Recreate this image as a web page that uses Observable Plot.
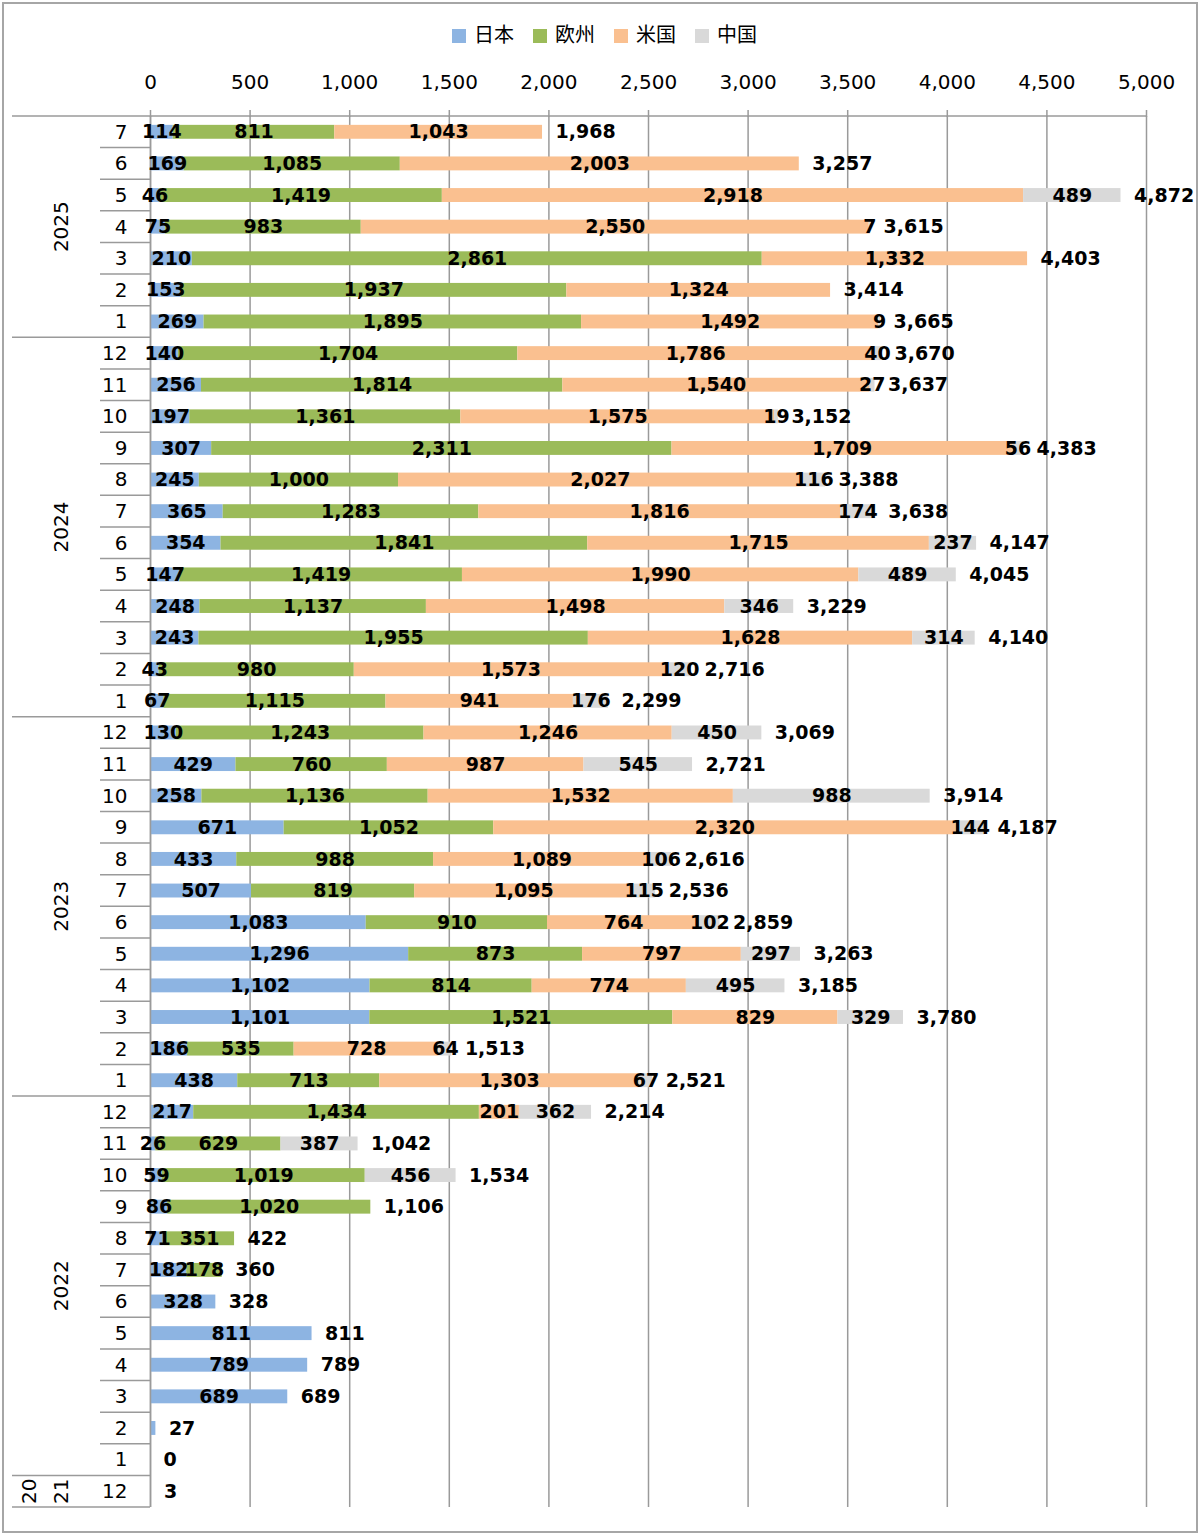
<!DOCTYPE html>
<html><head><meta charset="utf-8">
<script src="https://cdn.jsdelivr.net/npm/d3@7"></script>
<script src="https://cdn.jsdelivr.net/npm/@observablehq/plot@0.6"></script>
<style>
body{margin:0;background:#fff;}
#wrap{position:relative;width:1200px;height:1535px;}
#legend{position:absolute;top:23px;left:452px;display:flex;align-items:center;font-family:"Noto Sans CJK JP","Noto Sans",sans-serif;font-size:20px;color:#000;line-height:22px;}
#legend .item{display:flex;align-items:center;margin-right:19px;}
#legend .sw{width:14px;height:14px;margin-right:8px;margin-top:4px;}
</style>
</head><body>
<div id="wrap"><div id="legend"></div></div>
<script>
const periods = [
  "2025-7","2025-6","2025-5","2025-4","2025-3","2025-2","2025-1",
  "2024-12","2024-11","2024-10","2024-9","2024-8","2024-7","2024-6","2024-5","2024-4","2024-3","2024-2","2024-1",
  "2023-12","2023-11","2023-10","2023-9","2023-8","2023-7","2023-6","2023-5","2023-4","2023-3","2023-2","2023-1",
  "2022-12","2022-11","2022-10","2022-9","2022-8","2022-7","2022-6","2022-5","2022-4","2022-3","2022-2","2022-1",
  "2021-12"
];
const japan = [
  114,169,46,75,210,153,269,
  140,256,197,307,245,365,354,147,248,243,43,67,
  130,429,258,671,433,507,1083,1296,1102,1101,186,438,
  217,26,59,86,71,182,328,811,789,689,27,0,
  3
];
const europe = [
  811,1085,1419,983,2861,1937,1895,
  1704,1814,1361,2311,1000,1283,1841,1419,1137,1955,980,1115,
  1243,760,1136,1052,988,819,910,873,814,1521,535,713,
  1434,629,1019,1020,351,178,0,0,0,0,0,0,
  0
];
const usa = [
  1043,2003,2918,2550,1332,1324,1492,
  1786,1540,1575,1709,2027,1816,1715,1990,1498,1628,1573,941,
  1246,987,1532,2320,1089,1095,764,797,774,829,728,1303,
  201,0,0,0,0,0,0,0,0,0,0,0,
  0
];
const china = [
  0,0,489,7,0,0,9,
  40,27,19,56,116,174,237,489,346,314,120,176,
  450,545,988,144,106,115,102,297,495,329,64,67,
  362,387,456,0,0,0,0,0,0,0,0,0,
  0
];
const seriesNames = ["日本","欧州","米国","中国"];
const seriesColors = ["#8DB4E2","#9BBB59","#FAC090","#D9D9D9"];
const xTicks = [0,500,1000,1500,2000,2500,3000,3500,4000,4500,5000];
const hideSegmentLabel = ["2022-2","2021-12"];

const seriesValues = [japan, europe, usa, china];
const long = [];
seriesNames.forEach((s, si) => {
  periods.forEach((p, i) => long.push({period: p, series: s, value: seriesValues[si][i]}));
});
const totals = periods.map((p, i) => ({period: p, total: japan[i] + europe[i] + usa[i] + china[i]}));
const fmt = d3.format(",");
const labelFont = "DejaVu Sans, Verdana, sans-serif";

const plot = Plot.plot({
  width: 1200,
  height: 1535,
  marginTop: 116,
  marginBottom: 28,
  marginLeft: 150,
  marginRight: 54,
  style: {fontFamily: labelFont, fontSize: "20px", color: "#000", background: "transparent"},
  x: {domain: [0, 5000], ticks: xTicks},
  y: {domain: periods, paddingInner: 0.56, paddingOuter: 0.28, round: false},
  color: {domain: seriesNames, range: seriesColors},
  marks: [
    Plot.gridX(xTicks, {stroke: "#9a9a9a", strokeOpacity: 1, strokeWidth: 1.5}),
    Plot.axisX(xTicks, {anchor: "top", tickSize: 7, tickPadding: 21, tickFormat: fmt, stroke: "#9a9a9a", strokeWidth: 1.5, fontSize: 20, label: null}),
    Plot.axisY({tickSize: 0, tickPadding: 23, tickFormat: p => p.split("-")[1], fontSize: 20, label: null}),
    Plot.barX(long, Plot.stackX({y: "period", x: "value", fill: "series", z: "series", order: seriesNames})),
    Plot.ruleX([0], {stroke: "#9a9a9a", strokeWidth: 1.5}),
    Plot.text(long, Plot.stackX({
      y: "period", x: "value", z: "series", order: seriesNames,
      text: d => (d.value > 0 && !hideSegmentLabel.includes(d.period)) ? fmt(d.value) : null,
      fontWeight: "bold", fontSize: 19, fill: "#000"
    })),
    Plot.text(totals, {y: "period", x: "total", text: d => fmt(d.total), textAnchor: "start", dx: 13, fontWeight: "bold", fontSize: 19, fill: "#000"})
  ]
});

document.getElementById("wrap").prepend(plot);

// legend
const lg = d3.select("#legend");
seriesNames.forEach((s, i) => {
  const it = lg.append("div").attr("class", "item");
  it.append("div").attr("class", "sw").style("background", seriesColors[i]);
  it.append("span").text(s);
});

// category axis structure (month separators, year groups) using Plot's y scale
const ys = plot.scale("y");
const bw = ys.bandwidth;
const step = ys.apply(periods[1]) - ys.apply(periods[0]);
const rowTop = p => ys.apply(p) + bw / 2 - step / 2;
const svg = d3.select(plot);
const g = svg.append("g").attr("stroke", "#9a9a9a").attr("stroke-width", 1.5);
const years = periods.map(p => p.split("-")[0]);
const xs = plot.scale("x");
const x0 = xs.apply(0), xEnd = xs.apply(5000);
g.append("line").attr("x1", 12).attr("x2", xEnd).attr("y1", rowTop(periods[0])).attr("y2", rowTop(periods[0]));
periods.forEach((p, i) => {
  if (i === 0) return;
  const y = rowTop(p);
  const newYear = years[i] !== years[i - 1];
  g.append("line").attr("x1", newYear ? 12 : 100).attr("x2", x0).attr("y1", y).attr("y2", y);
});
const yBottom = rowTop(periods[periods.length - 1]) + step;
g.append("line").attr("x1", 12).attr("x2", x0).attr("y1", yBottom).attr("y2", yBottom);

// year labels
const yearGroups = d3.groups(periods, p => p.split("-")[0]);
const tg = svg.append("g").attr("font-family", labelFont).attr("font-size", 20).attr("fill", "#000");
yearGroups.forEach(([yr, ps]) => {
  const top = rowTop(ps[0]);
  const bot = rowTop(ps[ps.length - 1]) + step;
  const cy = (top + bot) / 2;
  const parts = ps.length < 2 ? [yr.slice(0, 2), yr.slice(2)] : [yr];
  const xsPos = parts.length === 2 ? [29, 61] : [61];
  parts.forEach((t, k) => {
    tg.append("text")
      .attr("transform", `translate(${xsPos[k]},${cy}) rotate(-90)`)
      .attr("text-anchor", "middle")
      .attr("dy", "0.35em")
      .text(t);
  });
});

// outer border
svg.append("rect").attr("x", 3).attr("y", 3).attr("width", 1194).attr("height", 1529)
  .attr("fill", "none").attr("stroke", "#a6a6a6").attr("stroke-width", 2);
</script>
</body></html>
